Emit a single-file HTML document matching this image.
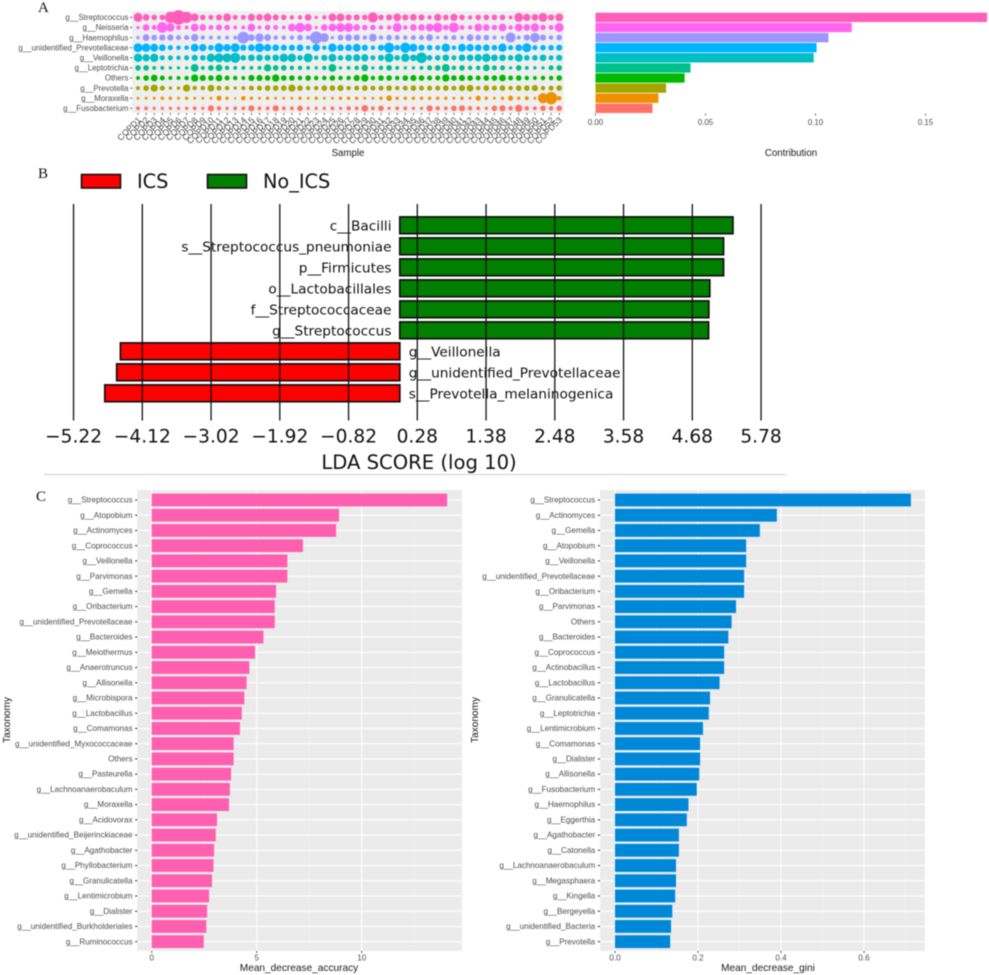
<!DOCTYPE html>
<html lang="en">
<head>
<meta charset="utf-8">
<title>Taxonomic contribution, LDA score and random forest importance</title>
<style>
html,body{margin:0;padding:0;background:#fff;}
body{width:989px;height:975px;overflow:hidden;}
svg{display:block;filter:blur(0.4px);}
text{font-family:"Liberation Sans",sans-serif;}
.gg{fill:#4D4D4D;font-size:8.1px;}
.ga{fill:#4D4D4D;font-size:7.9px;}
.gs{fill:#4D4D4D;font-size:8.5px;}
.tt{fill:#1a1a1a;font-size:9.7px;}
.ts{fill:#1a1a1a;font-size:10.1px;}
.mp{font-family:"DejaVu Sans",sans-serif;fill:#111;}
.pl{font-family:"Liberation Serif",serif;fill:#111;font-size:15px;}
</style>
</head>
<body>
<svg id="figure" xmlns="http://www.w3.org/2000/svg" width="989" height="975" viewBox="0 0 989 975">
  <rect width="989" height="975" fill="#fff"/>
  <text class="pl" x="38" y="12">A</text>
  <text class="pl" x="38" y="178">B</text>
  <text class="pl" x="36" y="501">C</text>
  <g id="a-bubbles"></g>
  <g id="a-bars"></g>
  <g id="b-lda"></g>
  <g id="c-left"></g>
  <g id="c-right"></g>
</svg>
<script>
// ---------- Panel A data ----------
const bubbleTaxa = ["g__Streptococcus","g__Neisseria","g__Haemophilus","g__unidentified_Prevotellaceae","g__Veillonella","g__Leptotrichia","Others","g__Prevotella","g__Moraxella","g__Fusobacterium"];
const bubbleColors = ["#FF5FBB","#FF66F0","#9B97FF","#00B4FF","#00BFC4","#00C08B","#00BA00","#A3A500","#EE9000","#FF7269"];
const streptococcusAbundance = [8,6,5,5,10,13,10,7,5,4.5,5.5,7,4.5,4.5,6.5,6,7,5.5,5,4,4,6,3,4,7,7,5.5,5.5,5,9,5,5.5,7,5.5,6,5.5,4,6.5,5,6.5,5,4,5,5,5,5,3.5,8,6.5,6,8,5.5,7];
const neisseriaAbundance = [3,6,4.5,9.5,7.5,4.5,3.5,7,6,4.5,5.5,5,3.5,3.5,7,3.5,5,4.5,3.5,7,8.5,7,3,6,7,8,8,6,5,5,4,4,8,4,6,6,7,8.5,5,9,4.5,4,7,6,5,7,4,7,6,7.5,5,4.5,8];
const haemophilusAbundance = [3,6,5,5.5,5.5,4.5,4.5,6.5,4,3.5,3.5,3.5,3.5,10.5,6,7.5,6,4,4,4,5,4,11,8,3,5,6,5.5,4,7,4,5,4.5,4,4.5,4.5,6,3,4,4.5,3.5,6,5,5,3.5,3,9,3.5,5.5,8.5,5.5,4,5];
const prevotellaceaeAbundance = [8,7.5,7,6,4.5,4,4,7,6.5,5,8,6.5,8,5.5,6,8,6.5,6,5.5,5.5,6,4,6.5,4,7.5,6,6,7,5.5,4,5.5,9,5,9,7,5.5,5,4.5,7.5,4,7,6.5,6,6,5,7.5,4.5,6,8,4.5,5,5,5.5];
const veillonellaAbundance = [7.5,6.5,7.5,4.5,4.5,4,4.5,5.5,5,7.5,8,8,9,5,6,6,5.5,6,7.5,7.5,5,8,4,5.5,7,5,6,6.5,6.5,4.5,5.5,8,5,7.5,6,9.5,5,5,6,4.5,6,6,6.5,7.5,6,6,5,7,5,5,6,4.5,5.5];
const leptotrichiaAbundance = [5,5,3.5,3.5,3,3,3,7,3.5,5,6,4,3.5,3.5,3.5,3.5,6.5,5,5,4,4,3.5,3,4,7,3,3.5,4,6,3,4,5,3.5,3,3,3.5,4.5,5,7,4,5,4,4,6,4.5,4.5,3,5,3.5,3,3,4.5,5];
const othersAbundance = [3.5,5,6,4.5,3.5,3.5,4,6.5,5.5,5,6,4.5,4,3.5,5.5,5.5,5,6.5,5,5,4,5,4,4,5,4,4,5.5,6.5,4,5,5,4,5,5.5,5,4.5,4.5,6.5,5,5.5,5,4.5,5,5,6,4.5,5,4,3.5,4,4,5];
const prevotellaAbundance = [3.5,5,6.5,4.5,3,3,6.5,4,4,6,4.5,4,3,3.5,4.5,4.5,5,5,5,6.5,5,4,4,5,5,5.5,4,4.5,5,4.5,4.5,5,4,4.5,5,4.5,4.5,4.5,5,4.5,5.5,6,4,5,4.5,5,4,5,5,5.5,4,4.5,5];
const moraxellaAbundance = [2.5,2.5,2.5,3,3,2.5,3,2.5,2.5,2.5,4.5,3,2,4,3,2.5,3,2.5,2.5,2.5,3,2.5,3,2.5,2.5,3,3,3,2.5,2.5,3,5,3,3,3,3,3,3,3,2.5,3,2.5,4.5,3,2.5,3,4.5,3,3.5,2.5,9,11,4];
const fusobacteriumAbundance = [3.5,3.5,3,3,3,3,3,3.5,3,5.5,4,3,3.5,3.5,5.5,3.5,3.5,5.5,3.5,3.5,5,3,3,3,3.5,3,4,3.5,6,3.5,5,3,3.5,3.5,3,3,5.5,4,3.5,5,5.5,4,3.5,3,5,5.5,4,6.5,4,3.5,5,4,5];
const bubbleSeries = [streptococcusAbundance,neisseriaAbundance,haemophilusAbundance,prevotellaceaeAbundance,veillonellaAbundance,leptotrichiaAbundance,othersAbundance,prevotellaAbundance,moraxellaAbundance,fusobacteriumAbundance];
const contributionValues = [0.178,0.1165,0.1059,0.1005,0.0992,0.0432,0.0405,0.0321,0.0286,0.0259];
const contributionTicks = [0,0.05,0.10,0.15];
const contributionTickLabels = ["0.00","0.05","0.10","0.15"];

// ---------- Panel B data ----------
const ldaTaxa = ["c__Bacilli","s__Streptococcus_pneumoniae","p__Firmicutes","o__Lactobacillales","f__Streptococcaceae","g__Streptococcus","g__Veillonella","g__unidentified_Prevotellaceae","s__Prevotella_melaninogenica"];
const ldaScores = [5.33,5.18,5.18,4.96,4.944,4.94,-4.47,-4.53,-4.72];
const ldaTicks = [-5.22,-4.12,-3.02,-1.92,-0.82,0.28,1.38,2.48,3.58,4.68,5.78];
const ldaTickLabels = ["\u22125.22","\u22124.12","\u22123.02","\u22121.92","\u22120.82","0.28","1.38","2.48","3.58","4.68","5.78"];

// ---------- Panel C data ----------
const accuracyTaxa = ["g__Streptococcus","g__Atopobium","g__Actinomyces","g__Coprococcus","g__Veillonella","g__Parvimonas","g__Gemella","g__Oribacterium","g__unidentified_Prevotellaceae","g__Bacteroides","g__Meiothermus","g__Anaerotruncus","g__Allisonella","g__Microbispora","g__Lactobacillus","g__Comamonas","g__unidentified_Myxococcaceae","Others","g__Pasteurella","g__Lachnoanaerobaculum","g__Moraxella","g__Acidovorax","g__unidentified_Beijerinckiaceae","g__Agathobacter","g__Phyllobacterium","g__Granulicatella","g__Lentimicrobium","g__Dialister","g__unidentified_Burkholderiales","g__Ruminococcus"];
const accuracyValues = [14.07,8.92,8.78,7.2,6.46,6.46,5.92,5.86,5.86,5.32,4.92,4.65,4.52,4.41,4.29,4.2,3.9,3.9,3.78,3.72,3.68,3.11,3.05,2.97,2.94,2.87,2.73,2.64,2.6,2.48];
const accuracyTicks = [0,5,10];
const accuracyMinorTicks = [2.5,7.5,12.5];
const accuracyTickLabels = ["0","5","10"];
const giniTaxa = ["g__Streptococcus","g__Actinomyces","g__Gemella","g__Atopobium","g__Veillonella","g__unidentified_Prevotellaceae","g__Oribacterium","g__Parvimonas","Others","g__Bacteroides","g__Coprococcus","g__Actinobacillus","g__Lactobacillus","g__Granulicatella","g__Leptotrichia","g__Lentimicrobium","g__Comamonas","g__Dialister","g__Allisonella","g__Fusobacterium","g__Haemophilus","g__Eggerthia","g__Agathobacter","g__Catonella","g__Lachnoanaerobaculum","g__Megasphaera","g__Kingella","g__Bergeyella","g__unidentified_Bacteria","g__Prevotella"];
const giniValues = [0.713,0.39,0.349,0.316,0.316,0.311,0.311,0.2916,0.281,0.273,0.263,0.263,0.252,0.229,0.226,0.212,0.205,0.205,0.203,0.197,0.177,0.173,0.154,0.154,0.147,0.147,0.145,0.138,0.135,0.133];
const giniTicks = [0,0.2,0.4,0.6];
const giniMinorTicks = [0.1,0.3,0.5,0.7];
const giniTickLabels = ["0.0","0.2","0.4","0.6"];

const NS = "http://www.w3.org/2000/svg";
function mk(parent, tag, attrs, txt) {
  const el = document.createElementNS(NS, tag);
  for (const k in attrs) el.setAttribute(k, attrs[k]);
  if (txt !== undefined) el.textContent = txt;
  parent.appendChild(el);
  return el;
}
function linear(d0, r0, pxPerUnit) { return v => r0 + (v - d0) * pxPerUnit; }

// ---------- Panel A: bubbles ----------
(function () {
  const g = document.getElementById('a-bubbles');
  const xs = i => 138 + 8.1 * i;
  const ys = i => 17.4 + 10.1 * i;
  const size = v => v * 1.12;
  const bg = mk(g, 'rect', {x:132, y:11, width:432, height:102, fill:'#EFEFEF'});
  
  
  bubbleTaxa.forEach((t, r) => {
    const lab = mk(g, 'text', {x:128.5, y:ys(r) + 2.7, 'text-anchor':'end', class:'ga'}, t);
    
    
    const tick = mk(g, 'rect', {x:130, y:ys(r) - 0.4, width:2, height:0.9, fill:'#444'});
    
    
    bubbleSeries[r].forEach((v, i) => {
      const c = mk(g, 'circle', {cx:xs(i), cy:ys(r), r:size(v) / 2, fill:bubbleColors[r]});
      
      
    });
  });
  for (let i = 0; i < streptococcusAbundance.length; i++) {
    const tick = mk(g, 'rect', {x:xs(i) - 0.4, y:113, width:0.9, height:2, fill:'#555'});
    
    
    const lab = mk(g, 'text', {x:0, y:0, 'text-anchor':'end', class:'gs', transform:'translate(' + (xs(i) + 3.5) + ',120.5) rotate(-45)'}, 'COPD' + (i + 1));
    
    
  }
  const title = mk(g, 'text', {x:348, y:156, 'text-anchor':'middle', class:'tt'}, 'Sample');
  
  
})();

// ---------- Panel A: contribution bars ----------
(function () {
  const g = document.getElementById('a-bars');
  const xs = linear(0, 595.5, 2200);
  const ys = i => 17.4 + 10.1 * i;
  contributionValues.forEach((v, i) => {
    const b = mk(g, 'rect', {x:xs(0), y:ys(i) - 4.7, width:xs(v) - xs(0), height:9.4, fill:bubbleColors[i]});
    
    
  });
  contributionTicks.forEach((t, i) => {
    const tick = mk(g, 'rect', {x:xs(t) - 0.4, y:113.5, width:0.9, height:2, fill:'#555'});
    
    
    const lab = mk(g, 'text', {x:xs(t), y:125, 'text-anchor':'middle', class:'ga'}, contributionTickLabels[i]);
    
    
  });
  const title = mk(g, 'text', {x:791, y:156, 'text-anchor':'middle', class:'tt'}, 'Contribution');
  
  
})();

// ---------- Panel B: LDA ----------
(function () {
  const g = document.getElementById('b-lda');
  const xs = linear(0, 399.8, 62.5);
  const ys = i => 225.3 + 21 * i;
  // legend
  const lr = mk(g, 'rect', {x:81.5, y:174.5, width:39, height:13.5, fill:'#FF0000', stroke:'#111', 'stroke-width':1.6});
  
  
  const lt = mk(g, 'text', {x:137, y:188, class:'mp', 'font-size':19.3}, 'ICS');
  
  
  const lg = mk(g, 'rect', {x:207.5, y:174.5, width:39, height:13.5, fill:'#007F00', stroke:'#111', 'stroke-width':1.6});
  
  
  const ln = mk(g, 'text', {x:263, y:188, class:'mp', 'font-size':19.3}, 'No_ICS');
  
  
  // bars
  ldaScores.forEach((v, i) => {
    const x0 = Math.min(xs(0), xs(v));
    const b = mk(g, 'rect', {x:x0, y:ys(i) - 8.4, width:Math.abs(xs(v) - xs(0)), height:16.8, fill:v > 0 ? '#007F00' : '#FF0000', stroke:'#111', 'stroke-width':1.7});
    
    
    const lab = mk(g, 'text', {x:v > 0 ? xs(0) - 8.3 : xs(0) + 8.9, y:ys(i) + 5.2, 'text-anchor':v > 0 ? 'end' : 'start', class:'mp', 'font-size':13.7}, ldaTaxa[i]);
    
    
  });
  // grid lines sit over bars
  ldaTicks.forEach((t, i) => {
    const l = mk(g, 'line', {x1:xs(t), x2:xs(t), y1:204, y2:420.5, stroke:'#111', 'stroke-width':1.3});
    
    
    const lab = mk(g, 'text', {x:xs(t), y:442.5, 'text-anchor':'middle', class:'mp', 'font-size':18.6}, ldaTickLabels[i]);
    
    
  });
  const title = mk(g, 'text', {x:419, y:469, 'text-anchor':'middle', class:'mp', 'font-size':19.6}, 'LDA SCORE (log 10)');
  
  
  const rule = mk(g, 'line', {x1:44, x2:786, y1:474.5, y2:474.5, stroke:'#CFCFCF', 'stroke-width':1});
  
  
})();

// ---------- Panel C ----------
function rankedBars(id, taxa, values, ticks, minor, tickLabels, o) {
  const g = document.getElementById(id);
  const xs = linear(0, o.x0, o.ppu);
  const ys = i => 500 + 15.23 * i;
  const bg = mk(g, 'rect', {x:o.left, y:490, width:o.right - o.left, height:461, fill:'#EBEBEB'});
  
  
  minor.forEach(t => {
    const l = mk(g, 'line', {x1:xs(t), x2:xs(t), y1:490, y2:951, stroke:'#F6F6F6', 'stroke-width':0.6});
    
    
  });
  ticks.forEach(t => {
    const l = mk(g, 'line', {x1:xs(t), x2:xs(t), y1:490, y2:951, stroke:'#fff', 'stroke-width':1.1});
    
    
  });
  taxa.forEach((t, i) => {
    const l = mk(g, 'line', {x1:o.left, x2:o.right, y1:ys(i), y2:ys(i), stroke:'#fff', 'stroke-width':1.1});
    
    
    const b = mk(g, 'rect', {x:xs(0), y:ys(i) - 6.4, width:xs(values[i]) - xs(0), height:12.8, fill:o.color});
    
    
    const lab = mk(g, 'text', {x:o.left - 4.8, y:ys(i) + 2.6, 'text-anchor':'end', class:'gg'}, t);
    
    
    const tick = mk(g, 'rect', {x:o.left - 2.2, y:ys(i) - 0.5, width:2.2, height:1, fill:'#333'});
    
    
  });
  ticks.forEach((t, i) => {
    const tick = mk(g, 'rect', {x:xs(t) - 0.4, y:951, width:0.9, height:2, fill:'#444'});
    
    
    const lab = mk(g, 'text', {x:xs(t), y:960.5, 'text-anchor':'middle', class:'gg'}, tickLabels[i]);
    
    
  });
  const xt = mk(g, 'text', {x:o.xTitleX, y:971, 'text-anchor':'middle', class:'ts'}, o.xTitle);
  
  
  const yt = mk(g, 'text', {x:0, y:0, 'text-anchor':'middle', class:'ts', transform:'translate(' + o.yTitleX + ',720) rotate(-90)'}, 'Taxonomy');
  
  
}
rankedBars('c-left', accuracyTaxa, accuracyValues, accuracyTicks, accuracyMinorTicks, accuracyTickLabels,
  {x0:151.7, ppu:21, left:137.3, right:462, color:'#FF5FB0', xTitle:'Mean_decrease_accuracy', xTitleX:299, yTitleX:10});
rankedBars('c-right', giniTaxa, giniValues, giniTicks, giniMinorTicks, giniTickLabels,
  {x0:615, ppu:415, left:600, right:925, color:'#0088D8', xTitle:'Mean_decrease_gini', xTitleX:768, yTitleX:478});
</script>
</body>
</html>
